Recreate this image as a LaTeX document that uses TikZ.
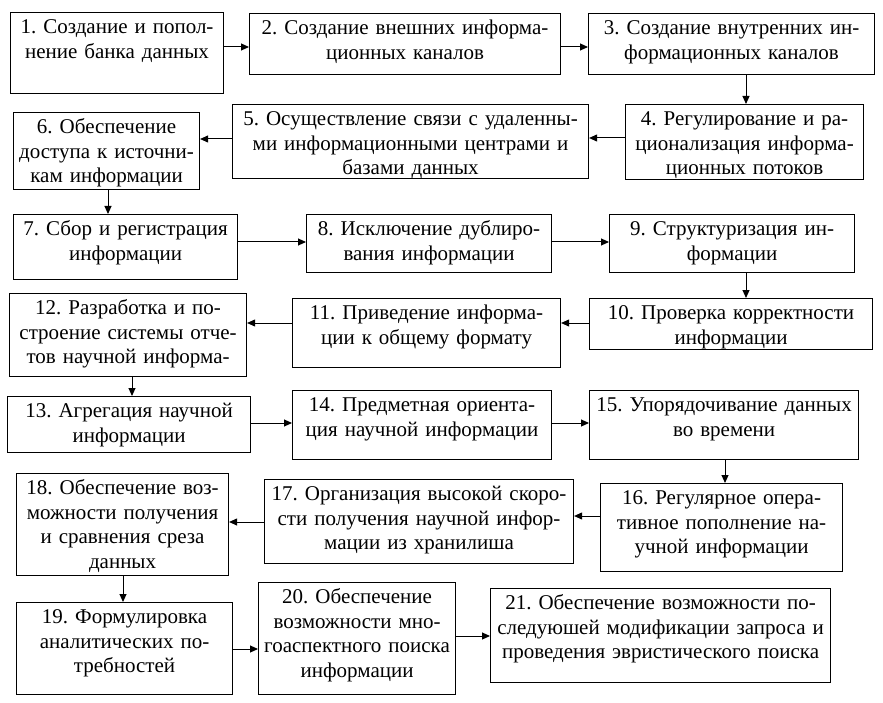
\documentclass[tikz,border=0pt]{standalone}
\usepackage{fontspec}
\setmainfont{Liberation Serif}
\newfontfamily\blkfont{Liberation Serif}
\usepackage{tikz}
\usetikzlibrary{ arrows.meta, % For the filled arrow heads
                 positioning, % For easy node-relative placements
               }
\hfuzz=50pt
\frenchspacing

\tikzset{
  blk/.style 2 args={draw, line width=1.1pt, anchor=north west, inner sep=0pt,
                     align=center, text width=#1pt, text height=21pt, text depth=#2pt,
                     font=\blkfont\fontsize{21}{24.5}\selectfont},
  arr/.style={-{Triangle[length=8pt,width=7pt]}, line width=1pt},
}

\begin{document}
\begin{tikzpicture}[x=1pt, y=-1pt] % boxes placed by their top left corners
  \useasboundingbox (0,0) rectangle (883,703);

  \node[blk={213}{60}] (create) at (10,12) {1. Создание и попол-\\нение банка данных};
  \node[blk={311}{40}] (outer) at (249,13) {2. Создание внешних информа-\\ционных каналов};
  \node[blk={286}{40}] (inner) at (588,13) {3. Создание внутренних ин-\\формационных каналов};
  \node[blk={238}{54}] (flows) at (625,104) {4. Регулирование и ра-\\ционализация информа-\\ционных потоков};
  \node[blk={356}{53}] (remote) at (232,104) {5. Осуществление связи с удаленны-\\ми информационными центрами и\\базами данных};
  \node[blk={186}{56}] (access) at (13,112) {6. Обеспечение\\доступа к источни-\\кам информации};

  \node[blk={224}{44}] (collect) at (13,214) {7. Сбор и регистрация\\информации};
  \node[blk={245}{37}] (dupl) at (306,214) {8. Исключение дублиро-\\вания информации};
  \node[blk={245}{37}] (struct) at (609,214) {9. Структуризация ин-\\формации};
  \node[blk={283}{30}] (check) at (589,298) {10. Проверка корректности\\информации};
  \node[blk={268}{48}] (format) at (292,298) {11. Приведение информа-\\ции к общему формату};
  \node[blk={237}{62}] (reports) at (9,293) {12. Разработка и по-\\строение системы отче-\\тов научной информа-};

  \node[blk={243}{35}] (aggr) at (7,396) {13. Агрегация научной\\информации};
  \node[blk={259}{48}] (subject) at (292,390) {14. Предметная ориента-\\ция научной информации};
  \node[blk={269}{48}] (time) at (589,390) {15. Упорядочивание данных\\во времени};
  \node[blk={242}{67}] (update) at (600,483) {16. Регулярное опера-\\тивное пополнение на-\\учной информации};
  \node[blk={309}{63}] (speed) at (264,479) {17. Организация высокой скоро-\\сти получения научной инфор-\\мации из хранилиша};
  \node[blk={212}{81}] (slice) at (16,473) {18. Обеспечение воз-\\можности получения\\и сравнения среза\\данных};

  \node[blk={216}{71}] (needs) at (16,602) {19. Формулировка\\аналитических по-\\требностей};
  \node[blk={197}{91}] (search) at (258,582) {20. Обеспечение\\возможности мно-\\гоаспектного поиска\\информации};
  \node[blk={340}{73}] (heur) at (490,588) {21. Обеспечение возможности по-\\следуюшей модификации запроса и\\проведения эвристического поиска};

  \draw[arr] (create.east |- 0,47) -- (outer.west |- 0,47);
  \draw[arr] (outer.east |- 0,47) -- (inner.west |- 0,47);
  \draw[arr] (inner.south -| 746,0) -- (flows.north -| 746,0);
  \draw[arr] (flows.west |- 0,138) -- (remote.east |- 0,138);
  \draw[arr] (remote.west |- 0,139) -- (access.east |- 0,139);
  \draw[arr] (access.south -| 108,0) -- (collect.north -| 108,0);

  \draw[arr] (collect.east |- 0,242) -- (dupl.west |- 0,242);
  \draw[arr] (dupl.east |- 0,242) -- (struct.west |- 0,242);
  \draw[arr] (struct.south -| 746,0) -- (check.north -| 746,0);
  \draw[arr] (check.west |- 0,323) -- (format.east |- 0,323);
  \draw[arr] (format.west |- 0,323) -- (reports.east |- 0,323);
  \draw[arr] (reports.south -| 132,0) -- (aggr.north -| 132,0);

  \draw[arr] (aggr.east |- 0,423) -- (subject.west |- 0,423);
  \draw[arr] (subject.east |- 0,423) -- (time.west |- 0,423);
  \draw[arr] (time.south -| 725,0) -- (update.north -| 725,0);
  \draw[arr] (update.west |- 0,516) -- (speed.east |- 0,516);
  \draw[arr] (speed.west |- 0,522) -- (slice.east |- 0,522);
  \draw[arr] (slice.south -| 123,0) -- (needs.north -| 123,0);

  \draw[arr] (needs.east |- 0,649) -- (search.west |- 0,649);
  \draw[arr] (search.east |- 0,636) -- (heur.west |- 0,636);
\end{tikzpicture}
\end{document}
